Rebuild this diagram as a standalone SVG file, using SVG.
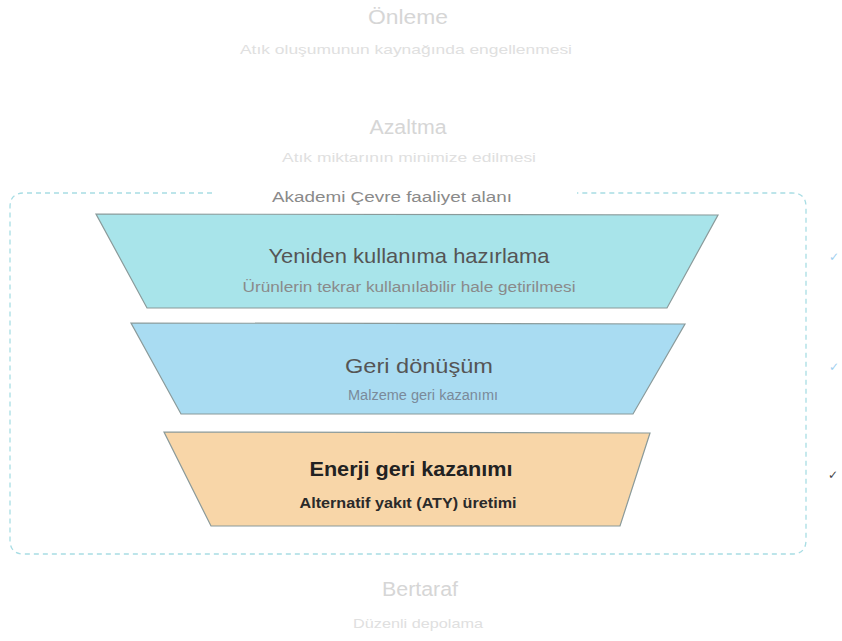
<svg xmlns="http://www.w3.org/2000/svg" width="842" height="641" viewBox="0 0 842 641">
<style>
.t{font-family:"Liberation Sans",Arial,sans-serif;text-anchor:middle}
.faint{fill:#d6d6d6}
.fsub{fill:#e0e0e0;font-size:13.5px}
.tr{stroke:#8a9a9a;stroke-width:1.2}
.chk{font-family:"DejaVu Sans",sans-serif;font-size:12px}
</style>
<rect width="842" height="641" fill="#fff"/>
<g id="onleme">
<text class="t faint" x="408" y="24" font-size="20" textLength="80" lengthAdjust="spacingAndGlyphs">Önleme</text>
<text class="t fsub" x="406" y="54" textLength="332" lengthAdjust="spacingAndGlyphs">Atık oluşumunun kaynağında engellenmesi</text>
</g>
<g id="azaltma">
<text class="t faint" x="408" y="134" font-size="20" textLength="77" lengthAdjust="spacingAndGlyphs">Azaltma</text>
<text class="t fsub" x="409" y="162" textLength="254" lengthAdjust="spacingAndGlyphs">Atık miktarının minimize edilmesi</text>
</g>
<g id="akademi">
<path d="M212,193 H24 Q10,193 10,207 V540 Q10,554 24,554 H792 Q806,554 806,540 V207 Q806,193 792,193 H577" fill="none" stroke="#a8dde4" stroke-width="1.3" stroke-dasharray="5,4"/>
<text class="t" x="392" y="202" font-size="15.5" fill="#8a8a8a" textLength="240" lengthAdjust="spacingAndGlyphs">Akademi Çevre faaliyet alanı</text>
</g>
<g id="yeniden">
<polygon class="tr" points="96,214 718,215 667,308 147,308" fill="#a8e4ea"/>
<text class="t" x="409" y="263" font-size="21" fill="#555" textLength="281" lengthAdjust="spacingAndGlyphs">Yeniden kullanıma hazırlama</text>
<text class="t" x="409" y="292" font-size="14" fill="#8a8a8a" textLength="333" lengthAdjust="spacingAndGlyphs">Ürünlerin tekrar kullanılabilir hale getirilmesi</text>
</g>
<g id="geri">
<polygon class="tr" points="131,323 685,324 633,414 181,414" fill="#a9dcf2"/>
<text class="t" x="419" y="373" font-size="21" fill="#555" textLength="148" lengthAdjust="spacingAndGlyphs">Geri dönüşüm</text>
<text class="t" x="423" y="400" font-size="14" fill="#7a8a9a" textLength="150" lengthAdjust="spacingAndGlyphs">Malzeme geri kazanımı</text>
</g>
<g id="enerji">
<polygon class="tr" points="164,432 650,433 620,526 211,526" fill="#f8d6a8" stroke="#777"/>
<text class="t" x="411" y="476" font-size="21" font-weight="bold" fill="#222" textLength="203" lengthAdjust="spacingAndGlyphs">Enerji geri kazanımı</text>
<text class="t" x="408" y="508" font-size="14.5" font-weight="bold" fill="#2a2a2a" textLength="217" lengthAdjust="spacingAndGlyphs">Alternatif yakıt (ATY) üretimi</text>
</g>
<g id="checks">
<text class="chk" x="829" y="261" fill="#9fd0f0">✓</text>
<text class="chk" x="829" y="371" fill="#9fd0f0">✓</text>
<text class="chk" x="828" y="479" fill="#444">✓</text>
</g>
<g id="bertaraf">
<text class="t faint" x="420" y="596" font-size="20" textLength="76" lengthAdjust="spacingAndGlyphs">Bertaraf</text>
<text class="t fsub" x="418" y="628" textLength="130" lengthAdjust="spacingAndGlyphs">Düzenli depolama</text>
</g>
</svg>
